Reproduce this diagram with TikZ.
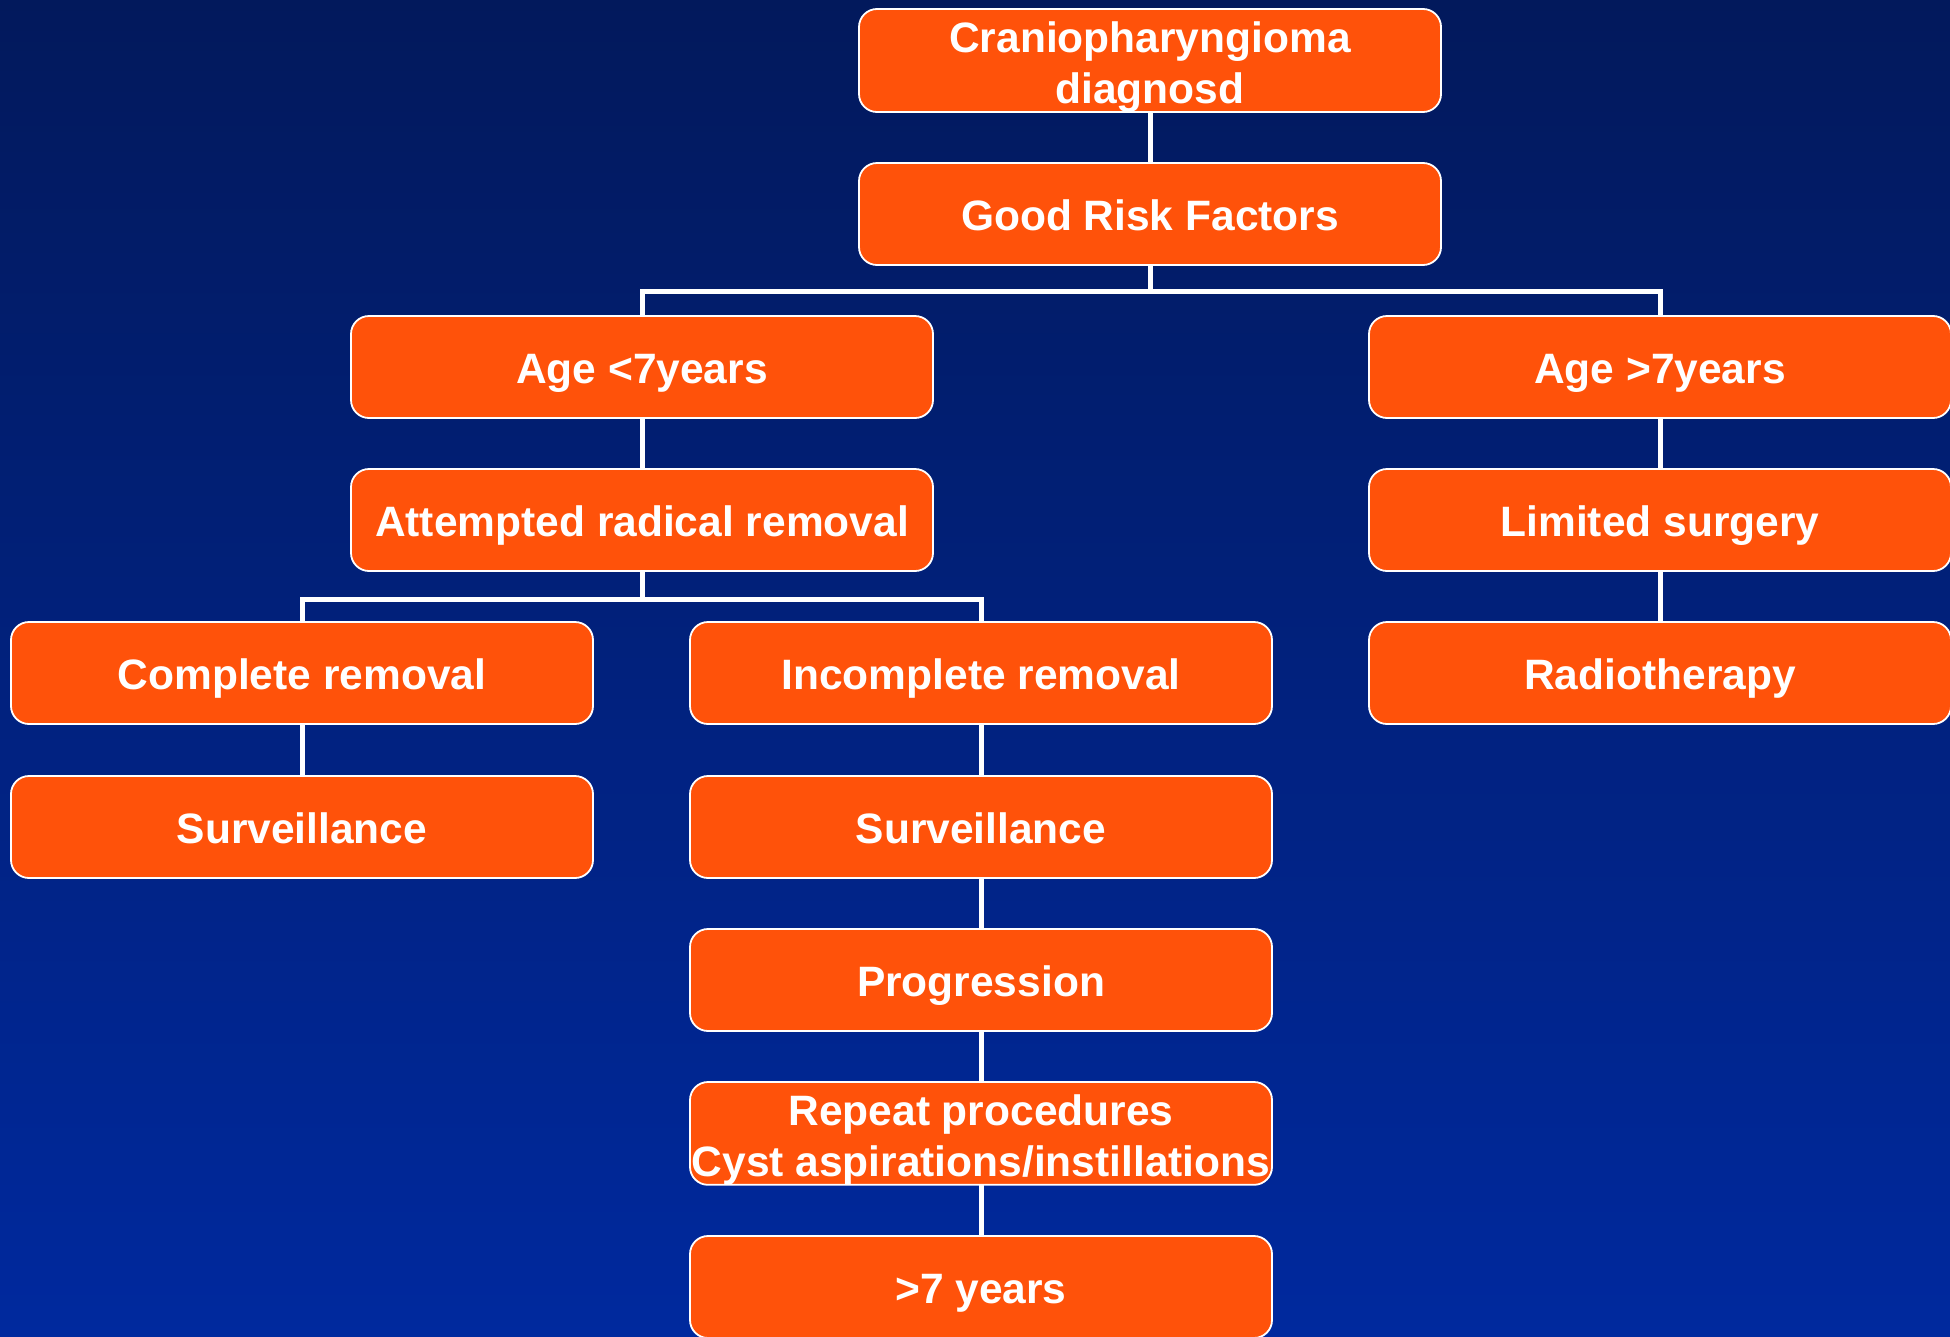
\documentclass[tikz,border=0pt]{standalone}
\usepackage{fontspec}
\setmainfont{Liberation Sans}
\definecolor{boxorange}{RGB}{255,82,10}
\definecolor{navytop}{RGB}{2,25,92}
\definecolor{navybottom}{RGB}{0,41,158}
\newcommand{\firstline}{\rule{0pt}{43pt}}
\begin{document}
\begin{tikzpicture}[x=1pt,y=-1pt,
  stepbox/.style={draw=white, line width=1.8pt, fill=boxorange, rounded corners=18pt,
    minimum width=582pt, minimum height=102pt, inner sep=0pt, outer sep=0pt,
    align=center, text=white, anchor=north,
    font=\fontsize{42.5}{51}\selectfont\bfseries},
  single/.style={text height=33.5pt, text depth=0pt},
  link/.style={draw=white, line width=5pt}]

% backdrop with vertical gradient
\shade[top color=navytop, bottom color=navybottom] (0,0) rectangle (1950,1336);
\useasboundingbox (0,0) rectangle (1950,1336);

% boxes
\node[stepbox] (diag)   at (1150,9)    {\firstline Craniopharyngioma\\diagnosd};
\node[stepbox,single] (risk)   at (1150,163)  {Good Risk Factors};
\node[stepbox,single] (young)  at (642,316)   {Age <7years};
\node[stepbox,single] (old)    at (1660,316)  {Age >7years};
\node[stepbox,single] (radical) at (642,469)  {Attempted radical removal};
\node[stepbox,single] (limited) at (1660,469) {Limited surgery};
\node[stepbox,single] (complete) at (302,622) {Complete removal};
\node[stepbox,single] (incomplete) at (981,622) {Incomplete removal};
\node[stepbox,single] (radio)  at (1660,622)  {Radiotherapy};
\node[stepbox,single] (survA)  at (302,776)   {Surveillance};
\node[stepbox,single] (survB)  at (981,776)   {Surveillance};
\node[stepbox,single] (prog)   at (981,929)   {Progression};
\node[stepbox] (repeat) at (981,1082)  {\firstline Repeat procedures\\Cyst aspirations/instillations};
\node[stepbox,single] (later)  at (981,1236)  {>7 years};

% connectors
\coordinate (forkA) at (1150,291);
\coordinate (forkB) at (642,599);
\draw[link] (diag.south) -- (risk.north);
\draw[link] (risk.south) -- (forkA);
\draw[link] (young.north) |- (forkA) -| (old.north);
\draw[link] (young.south) -- (radical.north);
\draw[link] (old.south) -- (limited.north);
\draw[link] (limited.south) -- (radio.north);
\draw[link] (radical.south) -- (forkB);
\draw[link] (complete.north) |- (forkB) -| (incomplete.north);
\draw[link] (complete.south) -- (survA.north);
\draw[link] (incomplete.south) -- (survB.north);
\draw[link] (survB.south) -- (prog.north);
\draw[link] (prog.south) -- (repeat.north);
\draw[link] (repeat.south) -- (later.north);
\end{tikzpicture}
\end{document}
